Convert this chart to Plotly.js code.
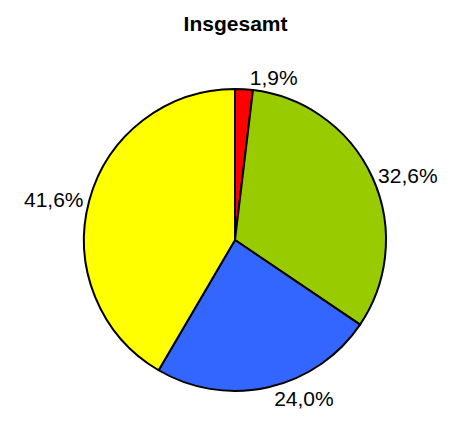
<!DOCTYPE html>
<html>
<head>
<meta charset="utf-8">
<script src="https://cdn.plot.ly/plotly-3.0.1.min.js"></script>
<style>html,body{margin:0;padding:0;background:#fff;}#chart{width:453px;height:423px;}</style>
</head>
<body>
<div id="chart"></div>
<script>
const categories = ["Rot", "Grün", "Blau", "Gelb"];
const values = [1.9, 32.6, 24.0, 41.6];
const colors = ["#FF0000", "#99CC00", "#3366FF", "#FFFF00"];
const titleText = "Insgesamt";

Plotly.newPlot("chart", [{
  type: "pie",
  labels: categories,
  values: values,
  sort: false,
  direction: "clockwise",
  rotation: 0,
  marker: {colors: colors, line: {color: "#000", width: 2}},
  textposition: "outside",
  texttemplate: "%{value:.1f}%",
  textfont: {family: "Liberation Sans, Arial, sans-serif", size: 21, color: "#000"},
  hoverinfo: "none",
  showlegend: false
}], {
  width: 453, height: 423,
  separators: ",.",
  margin: {l: 84, r: 67, t: 89, b: 32},
  paper_bgcolor: "#fff",
  title: {text: "<b>" + titleText + "</b>", x: 0.52, xanchor: "center", y: 0.945, yanchor: "middle",
          font: {family: "Liberation Sans, Arial, sans-serif", size: 21, color: "#000"}}
}, {displayModeBar: false, staticPlot: true});
</script>
</body>
</html>
